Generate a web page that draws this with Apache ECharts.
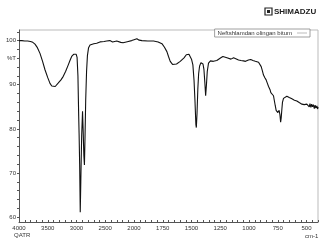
<!DOCTYPE html>
<html><head><meta charset="utf-8">
<script src="https://cdn.jsdelivr.net/npm/echarts@6/dist/echarts.min.js"></script>
<style>html,body{margin:0;padding:0;background:#fff}#c{width:326px;height:246px}</style>
</head><body><div id="c"></div>
<script>
const seriesName = 'Neftshlamdan olingan bitum';
const wavenumbers = [4000,3950,3900,3850,3800,3760,3722,3680,3635,3590,3548,3500,3461,3430,3403,3370,3340,3316,3270,3230,3190,3143,3110,3084,3050,3026,3005,2990,2975,2962,2955,2945,2935,2925,2910,2895,2885,2872,2862,2852,2840,2825,2810,2790,2765,2700,2649,2591,2520,2475,2420,2388,2372,2360,2345,2300,2273,2230,2190,2157,2100,2040,2000,1975,1955,1931,1880,1830,1790,1757,1735,1714,1700,1685,1665,1650,1630,1598,1565,1545,1535,1522,1511,1500,1488,1478,1470,1462,1458,1452,1445,1438,1430,1418,1410,1400,1392,1384,1377,1370,1363,1352,1335,1323,1310,1294,1280,1265,1245,1227,1210,1192,1175,1157,1145,1134,1115,1091,1070,1048,1030,1018,1005,996,985,966,945,917,905,894,884,874,862,851,840,830,822,816,810,805,799,793,787,781,772,764,756,749,743,738,731,725,720,714,709,700,690,671,650,627,605,584,560,540,520,505,497,490,483,476,470,462,455,448,440,432,425,418,410,403,400];
const transmittance = [100.0,100.0,99.9,99.9,99.8,99.6,99.2,98.4,97.1,95.3,93.4,91.6,90.3,89.7,89.4,89.6,90.0,90.4,91.1,91.9,93.0,94.5,95.6,96.4,96.9,97.0,96.9,96.2,92.0,83.0,79.0,72.0,61.1,68.0,78.5,84.0,80.0,74.0,71.8,78.0,86.5,93.0,96.6,98.4,99.0,99.3,99.4,99.7,99.8,99.9,100.0,100.0,99.7,99.5,99.8,99.9,99.7,99.6,99.5,99.6,99.8,100.0,100.2,100.4,100.1,100.0,99.9,99.9,99.7,99.3,98.5,97.5,96.4,95.3,94.6,94.3,94.7,95.3,96.1,96.8,97.0,96.9,96.5,95.8,94.5,91.0,86.5,81.0,80.3,83.5,89.0,92.5,94.2,95.0,95.1,94.7,93.5,90.5,87.5,90.0,93.0,94.9,95.4,95.5,95.3,95.1,95.5,95.8,96.1,96.4,96.3,96.1,96.0,95.8,96.0,96.1,95.9,95.6,95.5,95.4,95.3,95.1,95.6,95.9,95.7,95.5,95.3,95.1,94.8,94.1,93.2,92.2,91.6,91.1,90.3,89.6,89.2,88.8,88.2,87.8,88.3,88.4,87.5,86.6,85.3,84.2,83.9,83.7,84.0,84.2,83.2,81.5,82.5,84.5,86.0,86.9,87.2,87.4,87.1,86.8,86.5,86.3,85.9,85.6,85.5,85.4,85.6,85.2,85.8,85.0,85.7,84.9,85.6,85.0,85.5,84.6,85.4,84.7,85.2,84.5,85.0];
const xLabelsHigh = [4000,3500,3000,2500];
const xLabelsLow = [2000,1750,1500,1250,1000,750,500];
const yLabels = [60,70,80,90,100];

const highData = [], lowData = [];
wavenumbers.forEach((w,i)=>{
  if (w >= 2000) highData.push([w, transmittance[i]]);
  if (w <= 2000) lowData.push([w, transmittance[i]]);
});
const ticksHigh = []; for (let v=4000; v>=2000; v-=100) ticksHigh.push(v);
const ticksLow = []; for (let v=2000; v>=400; v-=50) ticksLow.push(v);
const ticksY = []; for (let v=60; v<=102; v+=2) ticksY.push(v);

const FONT = 'Liberation Sans, Arial, sans-serif';
const lbl = {fontSize:6, color:'#333', fontFamily:FONT, margin:3, formatter:(v)=>String(v)};
const chart = echarts.init(document.getElementById('c'));
const yMin = 58.9, yMax = 102.4;
chart.setOption({
  animation:false,
  backgroundColor:'#fff',
  grid:[{left:19, top:30, width:115, bottom:24},{left:134, top:30, right:8, bottom:24}],
  legend:{show:true, data:[{name:seriesName, itemStyle:{color:'#aaa'}, lineStyle:{color:'#aaa', width:0.8}}],
    right:16, top:29, align:'right', orient:'horizontal', icon:'rect', itemWidth:10, itemHeight:0.8,
    itemGap:2, padding:[1,3,1,3], borderColor:'#888', borderWidth:0.8, backgroundColor:'#fff',
    textStyle:{fontSize:6, color:'#333', fontFamily:FONT}},
  xAxis:[
    {gridIndex:0, type:'value', min:2000, max:4000, inverse:true,
     axisLine:{lineStyle:{color:'#555', width:1}},
     axisTick:{inside:true, length:2, lineStyle:{color:'#555'}, customValues:ticksHigh},
     axisLabel:Object.assign({customValues:xLabelsHigh}, lbl),
     splitLine:{show:false}},
    {gridIndex:1, type:'value', min:400, max:2000, inverse:true,
     axisLine:{lineStyle:{color:'#555', width:1}},
     axisTick:{inside:true, length:2, lineStyle:{color:'#555'}, customValues:ticksLow},
     axisLabel:Object.assign({customValues:xLabelsLow}, lbl),
     splitLine:{show:false}}
  ],
  yAxis:[
    {gridIndex:0, type:'value', min:yMin, max:yMax,
     axisLine:{show:true, lineStyle:{color:'#555', width:1}},
     axisTick:{show:true, length:2, lineStyle:{color:'#555'}, customValues:ticksY},
     axisLabel:Object.assign({customValues:yLabels}, lbl),
     splitLine:{show:false}},
    {gridIndex:1, type:'value', min:yMin, max:yMax, show:false, splitLine:{show:false}}
  ],
  series:[
    {name:seriesName, type:'line', xAxisIndex:0, yAxisIndex:0, data:highData, showSymbol:false,
     lineStyle:{color:'#111', width:1.1}, itemStyle:{color:'#111'}},
    {name:seriesName, type:'line', xAxisIndex:1, yAxisIndex:1, data:lowData, showSymbol:false,
     lineStyle:{color:'#111', width:1.1}, itemStyle:{color:'#111'}}
  ],
  graphic:[
    {type:'line', shape:{x1:19, y1:30, x2:318, y2:30}, style:{stroke:'#bbb', lineWidth:1}, z:-1},
    {type:'line', shape:{x1:318, y1:30, x2:318, y2:222}, style:{stroke:'#bbb', lineWidth:1}, z:-1},
    {type:'text', left:7, top:55, style:{text:'%T', fontSize:6, fill:'#333', fontFamily:FONT}},
    {type:'text', left:14, top:232, style:{text:'QATR', fontSize:6, fill:'#333', fontFamily:FONT}},
    {type:'text', left:305, top:233, style:{text:'cm-1', fontSize:6, fill:'#333', fontFamily:FONT}},
    {type:'rect', shape:{x:265, y:8, width:7, height:7}, style:{fill:'none', stroke:'#222', lineWidth:1.2}},
    {type:'rect', shape:{x:267, y:10, width:3, height:3}, style:{fill:'#222'}},
    {type:'text', left:274, top:7.5, style:{text:'SHIMADZU', fontSize:8, fontWeight:'bold', fill:'#222', fontFamily:FONT}}
  ]
});
</script></body></html>
